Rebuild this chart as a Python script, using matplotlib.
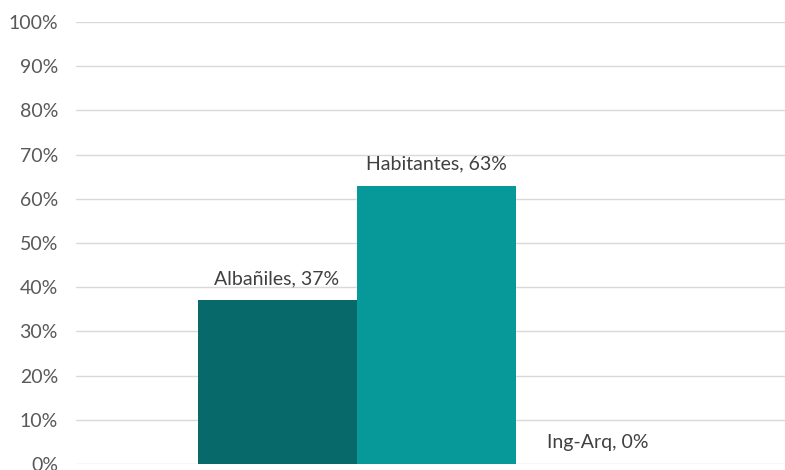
import matplotlib.pyplot as plt
from matplotlib.ticker import FixedLocator, FuncFormatter

categories = ["Albañiles", "Habitantes", "Ing-Arq"]
values = [37, 63, 0]
colors = ["#076969", "#079999", "#0fa3a3"]
yticks = [0, 10, 20, 30, 40, 50, 60, 70, 80, 90, 100]

plt.rcParams['font.family'] = ['Lato', 'DejaVu Sans']

fig = plt.figure(figsize=(7.85, 4.70), dpi=100)
ax = fig.add_axes([76 / 785, 6 / 470, 1 - 76 / 785, 442 / 470])

x = list(range(len(categories)))
ax.bar(x, values, width=1.0, color=colors, zorder=3, linewidth=0)

for xi, cat, v in zip(x, categories, values):
    ax.annotate(f"{cat}, {v}%", (xi, v), xytext=(2 if v == 0 else 0, 9.5),
                textcoords="offset points", ha="center", va="bottom",
                fontsize=14, color="#404040", zorder=4)

ax.set_xlim(-(277 - 76) / 159, (785 - 277) / 159)
ax.set_ylim(0, 100)
ax.yaxis.set_major_locator(FixedLocator(yticks))
ax.yaxis.set_major_formatter(FuncFormatter(lambda v, p: f"{v:.0f}%"))
ax.grid(axis="y", color="#d9d9d9", linewidth=1, zorder=0)
ax.set_xticks([])
for s in ax.spines.values():
    s.set_visible(False)
ax.tick_params(axis="y", length=0, pad=13, labelsize=14, labelcolor="#595959")

fig.savefig("out.png", dpi=100)
